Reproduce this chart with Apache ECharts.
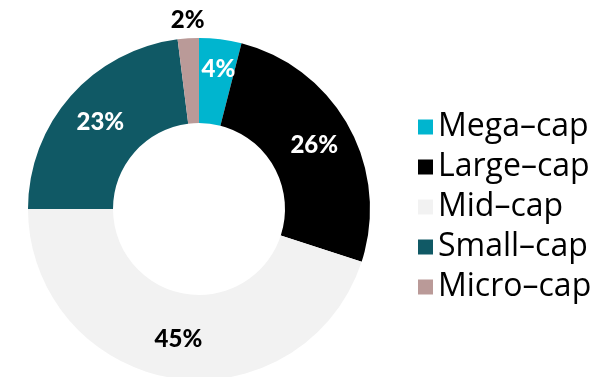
<!DOCTYPE html>
<html>
<head>
<meta charset="utf-8">
<script src="https://cdn.jsdelivr.net/npm/echarts@6/dist/echarts.min.js"></script>
<style>
  html, body { margin: 0; padding: 0; background: #ffffff; }
  #chart { width: 600px; height: 377px; }
</style>
</head>
<body>
<div id="chart"></div>
<script>
// Market-cap breakdown, in percent
const categories = ['Mega\u2013cap', 'Large\u2013cap', 'Mid\u2013cap', 'Small\u2013cap', 'Micro\u2013cap'];
const shares = [4, 26, 45, 23, 2];
const colors = ['#00B5CF', '#000000', '#F2F2F2', '#105965', '#BA9A98'];
const labelColors = ['#ffffff', '#ffffff', '#000000', '#ffffff', '#000000'];

const labelFont = 'Lato, "Open Sans", sans-serif';

const data = categories.map((name, i) => {
  const item = {
    name: name,
    value: shares[i],
    itemStyle: { color: colors[i] },
    label: { color: labelColors[i] }
  };
  if (i === 0) {
    item.label.offset = [3, -9];
  }
  if (i === categories.length - 1) {
    // the thin slice carries its label just above the ring
    item.label.offset = [-3, -57];
  }
  return item;
});

const chart = echarts.init(document.getElementById('chart'), null, { renderer: 'canvas' });
chart.setOption({
  animation: false,
  backgroundColor: '#ffffff',
  legend: {
    orient: 'vertical',
    left: 418,
    top: 107,
    padding: 0,
    itemWidth: 15,
    itemHeight: 15,
    itemGap: 0,
    icon: 'rect',
    selectedMode: false,
    data: categories,
    textStyle: {
      fontFamily: '"Open Sans", sans-serif',
      fontSize: 32,
      color: '#000000',
      lineHeight: 40
    }
  },
  series: [{
    type: 'pie',
    center: [199, 209],
    radius: [86, 171],
    startAngle: 90,
    clockwise: true,
    avoidLabelOverlap: false,
    silent: true,
    label: {
      show: true,
      position: 'inside',
      formatter: '{c}%',
      fontFamily: labelFont,
      fontWeight: 900,
      fontSize: 24
    },
    labelLine: { show: false },
    emphasis: { disabled: true },
    data: data
  }]
});
</script>
</body>
</html>
